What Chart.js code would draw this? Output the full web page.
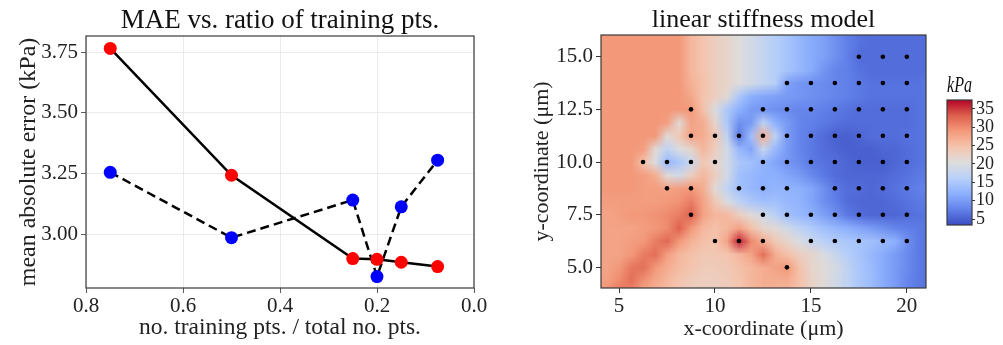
<!DOCTYPE html>
<html>
<head>
<meta charset="utf-8">
<script src="https://cdn.jsdelivr.net/npm/chart.js@4/dist/chart.umd.min.js"></script>
<style>
body { margin: 0; background: #fff; width: 1003px; height: 345px; position: relative; overflow: hidden; }
canvas { position: absolute; top: 0; }
</style>
</head>
<body>
<canvas id="mae" width="500" height="345" style="left:0"></canvas>
<canvas id="map" width="410" height="345" style="left:520px"></canvas>
<canvas id="cbar" width="73" height="345" style="left:930px"></canvas>
<script>
// ---- left panel: MAE vs ratio
const ratio = [0.75, 0.5, 0.25, 0.2, 0.15, 0.075];
const maeRed = [3.765, 3.243, 2.900, 2.897, 2.885, 2.867];
const maeBlue = [3.255, 2.986, 3.141, 2.826, 3.113, 3.305];
const ratioTicks = [0.8, 0.6, 0.4, 0.2, 0.0];
const maeTicks = [3.00, 3.25, 3.50, 3.75];

// ---- right panel: stiffness map (kPa), cell centres in um
const heatX = [3.75, 4.375, 5, 5.625, 6.25, 6.875, 7.5, 8.125, 8.75, 9.375, 10, 10.625, 11.25, 11.875,
               12.5, 13.125, 13.75, 14.375, 15, 15.625, 16.25, 16.875, 17.5, 18.125, 18.75, 19.375,
               20, 20.625, 21.25];
const heatY = [16.25, 15.625, 15, 14.375, 13.75, 13.125, 12.5, 11.875, 11.25, 10.625, 10, 9.375,
               8.75, 8.125, 7.5, 6.875, 6.25, 5.625, 5, 4.375, 3.75];
const heatZ = [
  [29,29,29,29,29,29,29,29,26,24.5,23,22,20.5,19,17.5,16,14.5,13,11.5,10.5,9,7.5,6.5,6,6,6,6,6,6],
  [29,29,29,29,29,29,29,29,26,24.5,23,22,20.5,19,17.5,16,14.5,13,11.5,10.5,9,7.5,6.5,6,6,6,6,6,6],
  [29,29,29,29,29,29,29,29,26,24.5,23,22,20.5,19,17.5,16,14.5,13,11.5,10.5,9,7.5,6,6,6,6,6,6,6],
  [29,29,29,29,29,29,29,29,26,24.5,23,22,20.5,19,17.5,16,14.5,13,11.5,9.5,8,7.5,6.5,6,6,6,6,6,6],
  [29,29,29,29,29,29,29,29,26.5,25,23,22,20.5,19,17.5,16,10.5,9.5,9,8.5,8,7.5,7,6.5,6.5,6.5,6.5,6.5,7],
  [29,29,29,29,29,29,29,29,27.5,24.5,23,21,15,12,11,10.5,10,9.5,9,8.5,8,7.5,7,6.5,6.5,6.5,6.5,6.5,7],
  [29,29,29,29,29,29,29,29,29,25,20,15,12,10,9.5,9,8.5,8,8,7.5,7,6.5,6,6,6,6,6,6.5,6.5],
  [29,29,29,29,29,29,28.5,21,28,27,22,15,9,10,17,12,10,8,7.5,7,6.5,6,6,6,6,6,6,6.5,6.5],
  [29,29,29,29,29,29,21,24,28,27,24,17,7,14,27,17,10,8,7,6,5,5,5.5,6,6,6,6.5,6.5,7],
  [29,29,29,29,28.5,21,17,20,22,26,23,19,13,11,18,13,10,8,7,6,5.5,5,5,5,5.5,5.5,6,6.5,6.5],
  [29,29,29,29,25,20,13,15,18,24,22,19,15,14,12.5,11,9.5,8.5,7,6.5,6,5.5,5,5,5,5.5,6,6.5,6.5],
  [29,29,29,29,28.5,27,21,19,23,26,23,19,14,13,12,12,11,10,8.5,7,6,5.5,5.5,5.5,5.5,6,6.5,7,7],
  [29,29,29,29,28.5,28.5,28,28.5,29,27,21,17,14,13,12,12.5,12.5,12,11,9,7,6,6,5.5,6,6.5,7,7.5,7.5],
  [28.5,28.5,28.5,28.5,28.5,28.5,29,29.5,31,28,24,20,17,15,14,14,13,12.5,11,9,7.5,6,5.5,5.5,5.5,6,6.5,7,7],
  [28,28,28.5,29,29,29.5,30,31,33,28,26,26,23,21,19,16.5,14,13,12,10.5,9,7,6,5.5,5.5,5.5,6,6.5,6.5],
  [28,28,28,28,28.5,29,30,33,29,26,25,26,28,25,22,21,19,17,15.5,14,13,12,11,10,9,8,7.5,7,6.5],
  [28,28,28,28.5,29,31,32.5,29,26.5,25,24.5,28,36,30,27,24,22,20,18,16.5,15.5,15,14.5,14,13,12,9,7,6],
  [28,28,28,29,31,32,28.5,26,25,24,24,24.5,26,28,32,27,25,23,22,20,18,16,14.5,13,11.5,10,8.5,7,6],
  [28,28,29,31.5,32,29,27,25.5,24.5,23.5,23.5,24,25,26,27,28,29,25,22,21,19.5,17,15,13.5,11.5,10,8.5,7,6],
  [28,28.5,30,32,29.5,27.5,26,24.5,23.5,23,23,23.5,24.5,26,27,27,27,25,22.5,21,19,17,15,13.5,11.5,10,8,7,6],
  [28.5,30,32,30,28,26.5,25,24,23,23,23,23.5,24.5,25.5,26.5,26.5,26,24.5,22,20.5,19,17,15,13.5,11.5,10,8,7,6]
];
// measurement points, one row per y
const dotRowY = [15, 13.75, 12.5, 11.25, 10, 8.75, 7.5, 6.25, 5];
const dotRowX = [
  [17.5, 18.75, 20],
  [13.75, 15, 16.25, 17.5, 18.75, 20],
  [8.75, 12.5, 13.75, 15, 16.25, 17.5, 18.75, 20],
  [8.75, 10, 11.25, 12.5, 13.75, 15, 16.25, 17.5, 18.75, 20],
  [6.25, 7.5, 8.75, 10, 12.5, 13.75, 15, 16.25, 17.5, 18.75, 20],
  [7.5, 8.75, 11.25, 12.5, 13.75, 16.25, 17.5, 18.75, 20],
  [8.75, 12.5, 13.75, 15, 16.25, 17.5, 18.75, 20],
  [10, 11.25, 12.5, 15, 16.25, 17.5, 18.75, 20],
  [13.75]
];
const mapXTicks = [5, 10, 15, 20];
const mapYTicks = [5, 7.5, 10, 12.5, 15];
const zMin = 3.4, zMax = 37.4;
const cbTicks = [5, 10, 15, 20, 25, 30, 35];

Chart.defaults.font.family = "'Liberation Serif', 'DejaVu Serif', serif";
Chart.defaults.color = '#222';
Chart.defaults.animation = false;

// coolwarm colormap
const cw = [[59,76,192],[98,130,234],[141,176,254],[184,208,249],[221,221,221],
            [245,196,173],[244,154,123],[222,96,77],[180,4,38]];
function coolwarm(t) {
  t = Math.max(0, Math.min(1, t));
  const p = t * 8, i = Math.min(7, Math.floor(p)), f = p - i;
  const a = cw[i], b = cw[i + 1];
  return 'rgb(' + a.map((v, k) => Math.round(v + (b[k] - v) * f)).join(',') + ')';
}

// matplotlib-like box round the axes
const frame = {
  id: 'frame',
  afterDraw(c) {
    const a = c.chartArea, ctx = c.ctx;
    ctx.save();
    ctx.strokeStyle = '#3a3a3a';
    ctx.lineWidth = 1.2;
    ctx.strokeRect(a.left, a.top, a.right - a.left, a.bottom - a.top);
    ctx.restore();
  }
};

const tickFont = { size: 21 };
const axTitle = (text, size, pad) => ({ display: true, text: text, font: { size: size }, padding: pad });
const fixTicks = arr => s => { s.ticks = arr.map(v => ({ value: v })); };
const plotTitle = (text, size) => ({
  display: true, text: text, fullSize: false, color: '#111',
  font: { size: size, weight: 'normal', lineHeight: 1 }, padding: { top: 7, bottom: 2 }
});

new Chart(document.getElementById('mae'), {
  type: 'scatter',
  data: {
    datasets: [
      { data: ratio.map((x, i) => ({ x: x, y: maeRed[i] })), showLine: true,
        borderColor: '#000', borderWidth: 2.5, pointRadius: 6.5, pointBorderWidth: 0,
        pointBackgroundColor: '#ff0000' },
      { data: ratio.map((x, i) => ({ x: x, y: maeBlue[i] })), showLine: true,
        borderColor: '#000', borderWidth: 2.5, borderDash: [9, 5], pointRadius: 6.5,
        pointBorderWidth: 0, pointBackgroundColor: '#0000ff' }
    ]
  },
  options: {
    responsive: false,
    layout: { padding: { left: 0, right: 26, top: 0, bottom: 0 } },
    plugins: { legend: { display: false }, tooltip: { enabled: false },
      title: plotTitle('MAE vs. ratio of training pts.', 27) },
    scales: {
      x: { type: 'linear', reverse: true, min: 0, max: 0.8,
        afterBuildTicks: fixTicks(ratioTicks), afterFit: s => { s.height = 57; },
        ticks: { font: tickFont, padding: 1, callback: v => v.toFixed(1), maxRotation: 0 },
        grid: { color: '#e6e6e6', lineWidth: 0.8, tickColor: '#333', tickLength: 5 },
        border: { display: false },
        title: axTitle('no. training pts. / total no. pts.', 23.5, { top: 0, bottom: 3 }) },
      y: { min: 2.779, max: 3.816,
        afterBuildTicks: fixTicks(maeTicks), afterFit: s => { s.width = 86; },
        ticks: { font: tickFont, padding: 3, callback: v => v.toFixed(2) },
        grid: { color: '#e6e6e6', lineWidth: 0.8, tickColor: '#333', tickLength: 5 },
        border: { display: false },
        title: axTitle('mean absolute error (kPa)', 24, { top: 14, bottom: 0 }) }
    }
  },
  plugins: [frame]
});

// heat field: one texel per cell, stretched over the cell extents taken from the scales
const heat = {
  id: 'heat',
  beforeDatasetsDraw(c) {
    const ctx = c.ctx, a = c.chartArea, sx = c.scales.x, sy = c.scales.y;
    const nx = heatX.length, ny = heatY.length;
    const off = document.createElement('canvas');
    off.width = nx; off.height = ny;
    const oc = off.getContext('2d');
    heatZ.forEach((row, j) => row.forEach((v, i) => {
      oc.fillStyle = coolwarm((v - zMin) / (zMax - zMin));
      oc.fillRect(i, j, 1, 1);
    }));
    const hx = (heatX[1] - heatX[0]) / 2, hy = (heatY[0] - heatY[1]) / 2;
    const x0 = sx.getPixelForValue(heatX[0] - hx), x1 = sx.getPixelForValue(heatX[nx - 1] + hx);
    const y0 = sy.getPixelForValue(heatY[0] + hy), y1 = sy.getPixelForValue(heatY[ny - 1] - hy);
    ctx.save();
    ctx.beginPath();
    ctx.rect(a.left, a.top, a.right - a.left, a.bottom - a.top);
    ctx.clip();
    ctx.imageSmoothingEnabled = true;
    ctx.drawImage(off, x0, y0, x1 - x0, y1 - y0);
    ctx.restore();
  }
};

const dots = [];
dotRowY.forEach((y, j) => dotRowX[j].forEach(x => dots.push({ x: x, y: y })));

new Chart(document.getElementById('map'), {
  type: 'scatter',
  data: { datasets: [{ data: dots, pointRadius: 2.3, pointBorderWidth: 0, pointBackgroundColor: '#000' }] },
  options: {
    responsive: false,
    layout: { padding: { left: 0, right: 3, top: 0, bottom: 0 } },
    plugins: { legend: { display: false }, tooltip: { enabled: false },
      title: plotTitle('linear stiffness model', 26) },
    scales: {
      x: { type: 'linear', min: 4.06, max: 21.0,
        afterBuildTicks: fixTicks(mapXTicks), afterFit: s => { s.height = 57; },
        ticks: { font: tickFont, padding: 1, maxRotation: 0 },
        grid: { drawOnChartArea: false, tickColor: '#333', tickLength: 5 },
        border: { display: false },
        title: axTitle('x-coordinate (μm)', 22, { top: 0, bottom: 3 }) },
      y: { min: 4.02, max: 16.03,
        afterBuildTicks: fixTicks(mapYTicks), afterFit: s => { s.width = 81; },
        ticks: { font: tickFont, padding: 3, callback: v => v.toFixed(1) },
        grid: { drawOnChartArea: false, tickColor: '#333', tickLength: 5 },
        border: { display: false },
        title: axTitle('y-coordinate (μm)', 22, { top: 9, bottom: 0 }) }
    }
  },
  plugins: [heat, frame]
});

// colour bar
const cbFill = {
  id: 'cbFill',
  beforeDatasetsDraw(c) {
    const ctx = c.ctx, a = c.chartArea, sy = c.scales.y;
    const yTop = sy.getPixelForValue(zMax), yBot = sy.getPixelForValue(zMin);
    const g = ctx.createLinearGradient(0, yBot, 0, yTop);
    for (let k = 0; k <= 16; k++) g.addColorStop(k / 16, coolwarm(k / 16));
    ctx.save();
    ctx.fillStyle = g;
    ctx.fillRect(a.left, yTop, a.right - a.left, yBot - yTop);
    ctx.restore();
  }
};

new Chart(document.getElementById('cbar'), {
  type: 'scatter',
  data: { datasets: [{ data: [] }] },
  options: {
    responsive: false,
    layout: { padding: { left: 17, right: 0, top: 74, bottom: 120 } },
    plugins: { legend: { display: false }, tooltip: { enabled: false },
      title: { display: true, text: 'kPa', align: 'start', fullSize: false, color: '#111',
        font: { size: 23, style: 'italic', weight: 'normal', lineHeight: 1 },
        padding: { top: 0, bottom: 3 } } },
    scales: {
      x: { display: false, min: 0, max: 1 },
      y: { position: 'right', min: zMin, max: zMax,
        afterBuildTicks: fixTicks(cbTicks), afterFit: s => { s.width = 31; },
        ticks: { font: { size: 18, lineHeight: 1 }, padding: 1, autoSkip: false },
        grid: { drawOnChartArea: false, tickColor: '#333', tickLength: 3 },
        border: { display: false } }
    }
  },
  plugins: [cbFill, frame]
});
</script>
</body>
</html>
